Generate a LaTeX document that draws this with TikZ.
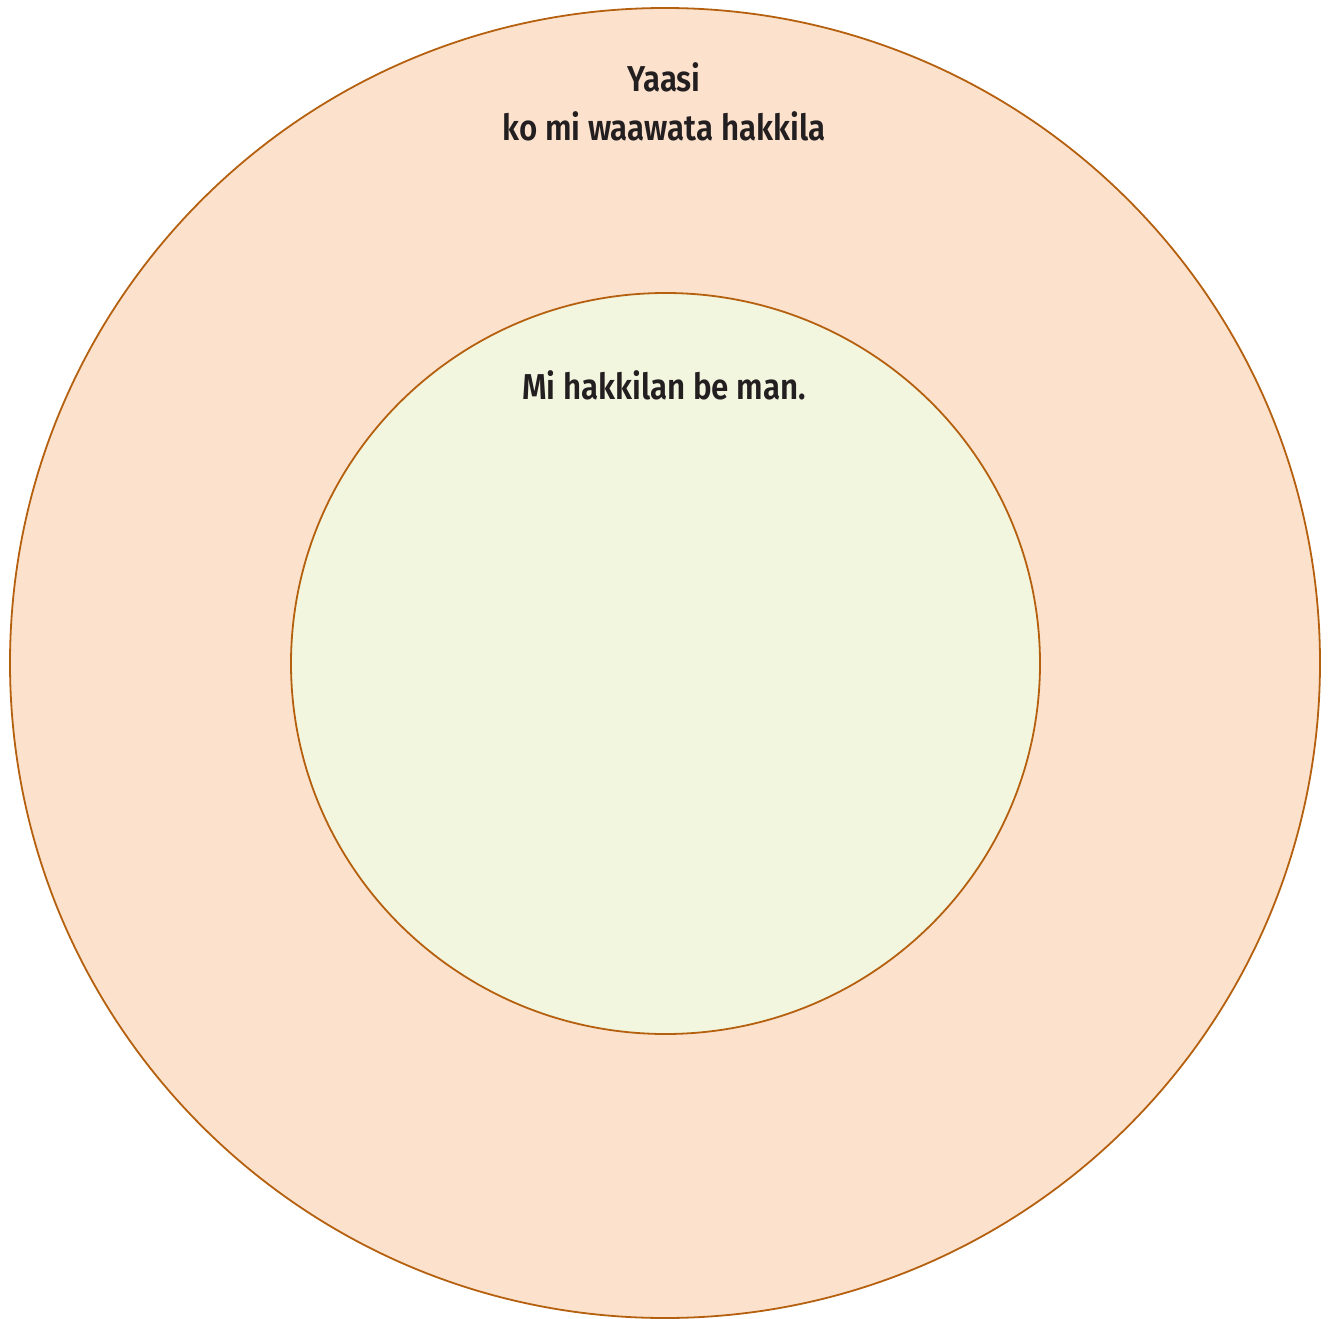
\documentclass[tikz,border=0pt]{standalone}
\usepackage{fontspec}
\setmainfont{Fira Sans}[FakeStretch=0.87, BoldFont={Fira Sans SemiBold}, BoldFeatures={FakeStretch=0.87}]
\usetikzlibrary{shapes.geometric}
\definecolor{outerfill}{HTML}{FCE2CD}
\definecolor{innerfill}{HTML}{F2F6DF}
\definecolor{ringline}{HTML}{B5600F}
\definecolor{txt}{HTML}{231F20}
\tikzset{
  ring/.style={ellipse, draw=ringline, line width=1.8pt, inner sep=0pt},
  lbl/.style={text=txt, font=\fontsize{36}{49}\selectfont\bfseries, align=center, inner sep=0pt}
}
\begin{document}
\begin{tikzpicture}[x=1pt,y=-1pt]
\useasboundingbox (0,0) rectangle (1331,1319);
\node[ring, fill=outerfill, minimum width=1310pt, minimum height=1310pt] (outer) at (665,663) {};
\node[ring, fill=innerfill, minimum width=749pt, minimum height=741pt] (inner) at (665.5,663.5) {};
\node[lbl] (t1) at (664,102) {Yaasi\\ko mi waawata hakkila};
\node[lbl] (t2) at (664,385) {Mi hakkilan be man.};
\end{tikzpicture}
\end{document}
